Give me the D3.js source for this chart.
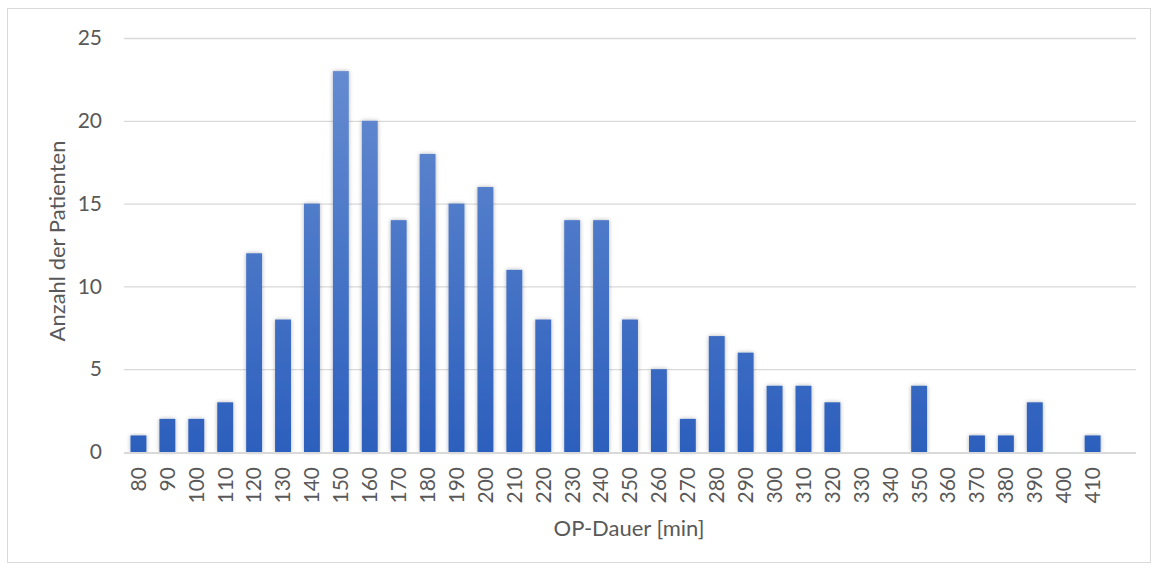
<!DOCTYPE html>
<html>
<head>
<meta charset="utf-8">
<script src="https://cdn.jsdelivr.net/npm/d3@7"></script>
<style>
  html, body { margin: 0; padding: 0; background: #fff; }
  svg { display: block; font-family: Lato, "Open Sans", sans-serif; }
</style>
</head>
<body>
<svg id="chart" width="1158" height="569"></svg>
<script>
// Operation duration classes (minutes) and patient counts per class
const durations = ["80","90","100","110","120","130","140","150","160","170","180","190","200","210","220","230","240","250","260","270","280","290","300","310","320","330","340","350","360","370","380","390","400","410",""];
const patients  = [1,2,2,3,12,8,15,23,20,14,18,15,16,11,8,14,14,8,5,2,7,6,4,4,3,0,0,4,0,1,1,3,0,1,null];
const yTicks = [0,5,10,15,20,25];

const svg = d3.select("#chart");
const m = { left: 124, right: 1136, top: 38, bottom: 452 };
const FONT = 21;
const TITLE_FONT = 22;
const TEXT = "#595959";

// outer chart frame
svg.append("rect")
  .attr("x", 7.5).attr("y", 8.5)
  .attr("width", 1143).attr("height", 554)
  .attr("fill", "#fff").attr("stroke", "#d9d9d9").attr("stroke-width", 1);

const data = durations.map((d, i) => ({ label: d, value: patients[i], key: i }));

const x = d3.scaleBand()
  .domain(data.map(d => d.key))
  .range([m.left, m.right])
  .paddingInner(0.45)
  .paddingOuter(0.225);

const y = d3.scaleLinear().domain([0, 25]).range([m.bottom, m.top]);

const defs = svg.append("defs");
const grad = defs.append("linearGradient")
  .attr("id", "barFill")
  .attr("gradientUnits", "userSpaceOnUse")
  .attr("x1", 0).attr("x2", 0)
  .attr("y1", y(25)).attr("y2", y(0));
grad.append("stop").attr("offset", "0%").attr("stop-color", "#6a8fd2");
grad.append("stop").attr("offset", "100%").attr("stop-color", "#2c5fbd");

const shadow = defs.append("filter").attr("id", "barShadow")
  .attr("x", "-50%").attr("y", "-10%").attr("width", "200%").attr("height", "120%");
shadow.append("feDropShadow")
  .attr("dx", 0).attr("dy", 0).attr("stdDeviation", 2.2)
  .attr("flood-color", "#000").attr("flood-opacity", 0.3);

// horizontal gridlines
svg.append("g")
  .selectAll("line")
  .data(yTicks.filter(t => t > 0))
  .join("line")
  .attr("x1", m.left).attr("x2", m.right)
  .attr("y1", d => y(d) + 0.5).attr("y2", d => y(d) + 0.5)
  .attr("stroke", "#d9d9d9").attr("stroke-width", 1.3);

// y axis labels
const yAxis = d3.axisLeft(y).tickValues(yTicks).tickSize(0).tickPadding(0);
svg.append("g")
  .attr("transform", `translate(${m.left - 22},0)`)
  .call(yAxis)
  .call(g => g.select(".domain").remove())
  .call(g => g.selectAll("text")
    .attr("fill", TEXT)
    .attr("font-size", FONT)
    .attr("font-family", "Lato, 'Open Sans', sans-serif"));

// bars
svg.append("g")
  .selectAll("rect")
  .data(data.filter(d => d.value > 0))
  .join("rect")
  .attr("x", d => x(d.key))
  .attr("width", x.bandwidth())
  .attr("y", d => y(d.value))
  .attr("height", d => y(0) - y(d.value))
  .attr("fill", "url(#barFill)")
  .attr("filter", "url(#barShadow)");

// baseline
svg.append("line")
  .attr("x1", m.left).attr("x2", m.right)
  .attr("y1", y(0) + 1).attr("y2", y(0) + 1)
  .attr("stroke", "#d9d9d9").attr("stroke-width", 2);

// x axis labels, rotated
const xAxis = d3.axisBottom(x)
  .tickFormat(k => data[k].label)
  .tickSize(0).tickPadding(0);
svg.append("g")
  .attr("transform", `translate(0,${y(0) + 15})`)
  .call(xAxis)
  .call(g => g.select(".domain").remove())
  .call(g => g.selectAll("text")
    .attr("fill", TEXT)
    .attr("font-size", FONT)
    .attr("font-family", "Lato, 'Open Sans', sans-serif")
    .attr("transform", "rotate(-90)")
    .attr("text-anchor", "end")
    .attr("dy", "0.35em")
    .attr("x", 0).attr("y", 0));

// axis titles
svg.append("text")
  .attr("transform", `translate(65,241) rotate(-90)`)
  .attr("text-anchor", "middle")
  .attr("fill", TEXT)
  .attr("font-size", TITLE_FONT)
  .text("Anzahl der Patienten");

svg.append("text")
  .attr("x", 629)
  .attr("y", 536)
  .attr("text-anchor", "middle")
  .attr("fill", TEXT)
  .attr("font-size", TITLE_FONT)
  .text("OP-Dauer [min]");
</script>
</body>
</html>
